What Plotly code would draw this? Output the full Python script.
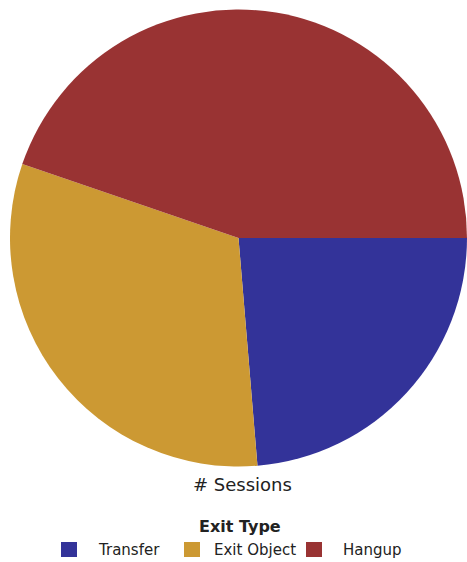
import plotly.graph_objects as go

# Session counts by exit type
exit_types = ["Transfer", "Exit Object", "Hangup"]
sessions = [237, 316, 448]
colors = ["#333399", "#CC9933", "#993333"]

W, H = 467, 562
TEXT = "#222222"


def px_x(x):
    return x / W


def px_y(y):
    return (H - y) / H


fig = go.Figure(
    go.Pie(
        labels=exit_types,
        values=sessions,
        marker=dict(colors=colors, line=dict(width=0)),
        sort=False,
        direction="clockwise",
        rotation=90,
        textinfo="none",
        hoverinfo="label+value+percent",
        showlegend=False,
        domain=dict(x=[px_x(10), 1.0], y=[px_y(467), px_y(9)]),
    )
)

# Pie caption
fig.add_annotation(
    text="# Sessions",
    x=px_x(242), y=px_y(484), xref="paper", yref="paper",
    xanchor="center", yanchor="middle",
    showarrow=False, font=dict(size=18, color=TEXT),
)

# Legend: title plus one swatch and label per exit type
fig.add_annotation(
    text="<b>Exit Type</b>",
    x=px_x(240), y=px_y(526), xref="paper", yref="paper",
    xanchor="center", yanchor="middle",
    showarrow=False, font=dict(size=16, color=TEXT),
)
swatch_left = [61, 184, 306]
label_left = [96, 212, 341]
for name, col, sx, lx in zip(exit_types, colors, swatch_left, label_left):
    fig.add_shape(
        type="rect", xref="paper", yref="paper",
        x0=px_x(sx), x1=px_x(sx + 16), y0=px_y(557), y1=px_y(542),
        fillcolor=col, line=dict(width=0),
    )
    fig.add_annotation(
        text=name,
        x=px_x(lx), y=px_y(550), xref="paper", yref="paper",
        xanchor="left", yanchor="middle",
        showarrow=False, font=dict(size=15, color=TEXT),
    )

fig.update_layout(
    width=W, height=H,
    margin=dict(l=0, r=0, t=0, b=0, pad=0, autoexpand=False),
    paper_bgcolor="white",
    font=dict(family="DejaVu Sans", color=TEXT),
    showlegend=False,
)

fig.write_html("out.html")
